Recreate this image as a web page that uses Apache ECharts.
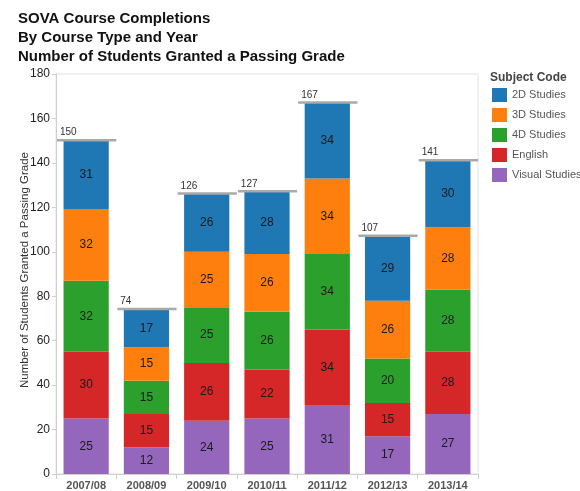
<!DOCTYPE html>
<html>
<head>
<meta charset="utf-8">
<script src="https://cdn.jsdelivr.net/npm/echarts@6/dist/echarts.min.js"></script>
<style>
html,body{margin:0;padding:0;background:#fff;}
#chart{width:580px;height:491px;}
</style>
</head>
<body>
<div id="chart"></div>
<script>
const categories = ['2007/08','2008/09','2009/10','2010/11','2011/12','2012/13','2013/14'];
const visualStudies = [25,12,24,25,31,17,27];
const english = [30,15,26,22,34,15,28];
const studies4D = [32,15,25,26,34,20,28];
const studies3D = [32,15,25,26,34,26,28];
const studies2D = [31,17,26,28,34,29,30];
const totals = [150,74,126,127,167,107,141];
const yTicks = [0,20,40,60,80,100,120,140,160,180];

const colors = {
  '2D Studies':'#1f77b4',
  '3D Studies':'#ff7f0e',
  '4D Studies':'#2ca02c',
  'English':'#d62728',
  'Visual Studies':'#9467bd'
};
const FONT = '"Liberation Sans", Arial, sans-serif';

function barSeries(name, data){
  return {
    name: name,
    type: 'bar',
    stack: 'total',
    data: data,
    barWidth: '75%',
    itemStyle: {color: colors[name]},
    label: {show: true, position: 'inside', color: '#1a1a1a', fontSize: 12, fontFamily: FONT},
    emphasis: {disabled: true},
    animation: false
  };
}

const chart = echarts.init(document.getElementById('chart'));
chart.setOption({
  animation: false,
  title: [
    {
      text: 'SOVA Course Completions\nBy Course Type and Year\nNumber of Students Granted a Passing Grade',
      left: 18, top: 9, padding: 0,
      textStyle: {fontFamily: FONT, fontWeight: 'bold', fontSize: 15, color: '#111', lineHeight: 19}
    },
    {
      text: 'Subject Code',
      left: 490, top: 72, padding: 0,
      textStyle: {fontFamily: FONT, fontWeight: 'bold', fontSize: 12, color: '#444'}
    }
  ],
  legend: {
    orient: 'vertical',
    left: 492, top: 88, padding: 0,
    width: 120,
    itemWidth: 15, itemHeight: 14, itemGap: 6,
    icon: 'rect',
    data: ['2D Studies','3D Studies','4D Studies','English','Visual Studies'],
    textStyle: {fontFamily: FONT, fontSize: 11, color: '#555', overflow: 'none', width: 100},
    selectedMode: false
  },
  grid: {
    left: 56, right: 102, top: 74, bottom: 15,
    show: true, borderColor: '#e2e2e2', borderWidth: 1
  },
  xAxis: {
    type: 'category',
    data: categories,
    axisLine: {lineStyle: {color: '#cfcfcf'}},
    axisTick: {show: true, length: 5, lineStyle: {color: '#cfcfcf'}},
    axisLabel: {fontFamily: FONT, fontWeight: 'bold', fontSize: 11, color: '#555', margin: 6}
  },
  yAxis: {
    type: 'value',
    min: yTicks[0], max: yTicks[yTicks.length-1], interval: 20,
    name: 'Number of Students Granted a Passing Grade',
    nameLocation: 'middle', nameGap: 25,
    nameMoveOverlap: false,
    nameTextStyle: {fontFamily: FONT, fontSize: 11.5, color: '#333', padding: [0, 0, 0, 8]},
    axisLine: {show: true, lineStyle: {color: '#cfcfcf'}},
    axisTick: {show: true, length: 4, lineStyle: {color: '#cfcfcf'}},
    splitLine: {show: false},
    axisLabel: {fontFamily: FONT, fontSize: 12, color: '#222', margin: 6}
  },
  series: [
    barSeries('Visual Studies', visualStudies),
    barSeries('English', english),
    barSeries('4D Studies', studies4D),
    barSeries('3D Studies', studies3D),
    barSeries('2D Studies', studies2D),
    {
      type: 'custom',
      name: 'Total',
      data: totals.map((t,i)=>[i,t]),
      encode: {x: 0, y: 1},
      z: 10,
      renderItem: function(params, api){
        const idx = api.value(0);
        const total = api.value(1);
        const p = api.coord([idx, total]);
        const band = api.size([1, 0])[0];
        const x0 = p[0] - band/2 + 1;
        const x1 = p[0] + band/2;
        return {
          type: 'group',
          children: [
            {type:'line', shape:{x1:x0, y1:p[1]-0.5, x2:x1, y2:p[1]-0.5},
             style:{stroke:'#a9a9a9', lineWidth:2.5}},
            {type:'text', style:{x:x0+3, y:p[1]-3, text:String(total),
              textAlign:'left', textVerticalAlign:'bottom',
              fill:'#333', font:'10px "Liberation Sans", Arial, sans-serif'}}
          ]
        };
      },
      animation: false
    }
  ]
});
</script>
</body>
</html>
